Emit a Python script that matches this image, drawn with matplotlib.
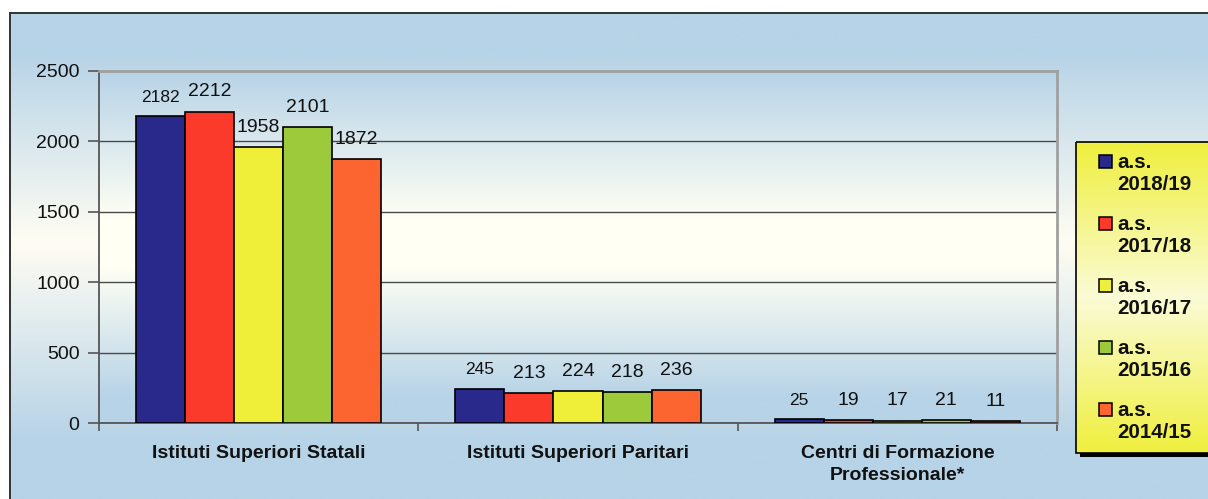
import numpy as np
import matplotlib
matplotlib.use("Agg")
import matplotlib.pyplot as plt
from matplotlib.colors import LinearSegmentedColormap, to_rgb
from matplotlib.patches import Rectangle

# ---- data ----
categories = ["Istituti Superiori Statali", "Istituti Superiori Paritari",
              "Centri di Formazione\nProfessionale*"]
series_names = ["a.s.\n2018/19", "a.s.\n2017/18", "a.s.\n2016/17", "a.s.\n2015/16", "a.s.\n2014/15"]
s2018_19 = [2182, 245, 25]
s2017_18 = [2212, 213, 19]
s2016_17 = [1958, 224, 17]
s2015_16 = [2101, 218, 21]
s2014_15 = [1872, 236, 11]
series_values = [s2018_19, s2017_18, s2016_17, s2015_16, s2014_15]
series_colors = ["#29298c", "#fb3a2c", "#efef3a", "#9dca3a", "#fc6430"]
yticks = [0, 500, 1000, 1500, 2000, 2500]

plt.rcParams['font.family'] = ['Liberation Sans', 'DejaVu Sans']

W, H = 1208, 499
fig = plt.figure(figsize=(W / 100, H / 100), dpi=100)
fig.patch.set_facecolor('white')

def gradient(stops, n=512):
    cm = LinearSegmentedColormap.from_list('g', [(p, to_rgb(c)) for p, c in stops])
    return cm(np.linspace(0, 1, n))[:, None, :]

BLUE = "#b7d3e7"
CREAM = "#fffdf3"

# ---- outer chart area background ----
bg = fig.add_axes([10 / W, 0, 1 - 10 / W, 1 - 13 / H], zorder=0)
bg.imshow(gradient([(0, BLUE), (0.08, BLUE), (0.47, CREAM), (0.88, BLUE), (1, BLUE)]),
          aspect='auto', extent=[0, 1, 0, 1], interpolation='bilinear')
bg.set_xticks([]); bg.set_yticks([])
for s in ['right', 'bottom']:
    bg.spines[s].set_visible(False)
for s in ['left', 'top']:
    bg.spines[s].set_color('#333333')
    bg.spines[s].set_linewidth(1.4)

# ---- plot area ----
L, R, T, B = 99, 1057, 71, 423
rect = [L / W, 1 - B / H, (R - L) / W, (B - T) / H]
pbg = fig.add_axes(rect, zorder=1)
pbg.imshow(gradient([(0, BLUE), (0.42, "#fffff4"), (0.56, "#fffff4"), (0.93, BLUE), (1, BLUE)]),
           aspect='auto', extent=[0, 1, 0, 1], interpolation='bilinear')
pbg.axis('off')

ax = fig.add_axes(rect, zorder=2)
ax.patch.set_visible(False)

x = np.arange(len(categories))
bw = 0.1535
for i, (vals, col) in enumerate(zip(series_values, series_colors)):
    pos = x + (i - 2) * bw
    bars = ax.bar(pos, vals, width=bw, color=col, edgecolor='black', linewidth=1.2, zorder=3)
    fs = 12.5 if i == 0 else 14
    for b, v in zip(bars, vals):
        ax.annotate(str(v), (b.get_x() + b.get_width() / 2, v), xytext=(0, 8),
                    textcoords='offset points', ha='center', va='bottom',
                    fontsize=fs, color='#111111', zorder=4)

ax.set_xlim(-0.5, 2.5)
ax.set_ylim(0, 2500)
ax.set_yticks(yticks)
ax.set_yticklabels([str(t) for t in yticks], fontsize=14)
ax.yaxis.grid(True, color='#4a4a4a', linewidth=1.0, zorder=1)
ax.set_axisbelow(True)

ax.set_xticks(x)
ax.set_xticklabels(categories, fontsize=14, fontweight='bold', linespacing=1.4, va='top')
ax.set_xticks([-0.5, 0.5, 1.5, 2.5], minor=True)
ax.tick_params(axis='x', which='major', length=0, pad=16)
ax.tick_params(axis='x', which='minor', length=6, color='#555555', width=1.2)
ax.tick_params(axis='y', length=8, color='#555555', width=1.2, pad=6)
for lbl in ax.get_yticklabels():
    lbl.set_color('#111111')
for lbl in ax.get_xticklabels():
    lbl.set_color('#111111')

ax.spines['top'].set_color('#a0a0a0'); ax.spines['top'].set_linewidth(2)
ax.spines['right'].set_color('#a0a0a0'); ax.spines['right'].set_linewidth(2)
ax.spines['left'].set_color('#555555'); ax.spines['left'].set_linewidth(1.3)
ax.spines['bottom'].set_color('#555555'); ax.spines['bottom'].set_linewidth(1.3)

# ---- legend (drawn in figure pixel space) ----
lax = fig.add_axes([0, 0, 1, 1], zorder=5)
lax.axis('off')
lx0, ly0, lx1, ly1 = 1076, 142, 1215, 453
lax.add_patch(Rectangle((lx0 + 4, ly0 + 4), lx1 - lx0, ly1 - ly0, facecolor='black',
                        edgecolor='none', zorder=1))
lax.imshow(gradient([(0, "#efef3e"), (0.5, "#fbfbd6"), (1, "#efef3e")]), aspect='auto',
           extent=[lx0, lx1, ly1, ly0], interpolation='bilinear', zorder=2)
lax.add_patch(Rectangle((lx0, ly0), lx1 - lx0, ly1 - ly0, facecolor='none',
                        edgecolor='black', linewidth=1.2, zorder=3))
lax.set_xlim(0, W); lax.set_ylim(H, 0)
for i, (name, col) in enumerate(zip(series_names, series_colors)):
    y0 = 155 + 62 * i
    lax.add_patch(Rectangle((1099, y0), 13, 13, facecolor=col, edgecolor='black',
                            linewidth=1.1, zorder=4))
    lax.text(1117, y0 - 2, name, ha='left', va='top', fontsize=14.8, fontweight='bold',
             linespacing=1.22, color='#111111', zorder=4)

fig.savefig("out.png", dpi=100)
